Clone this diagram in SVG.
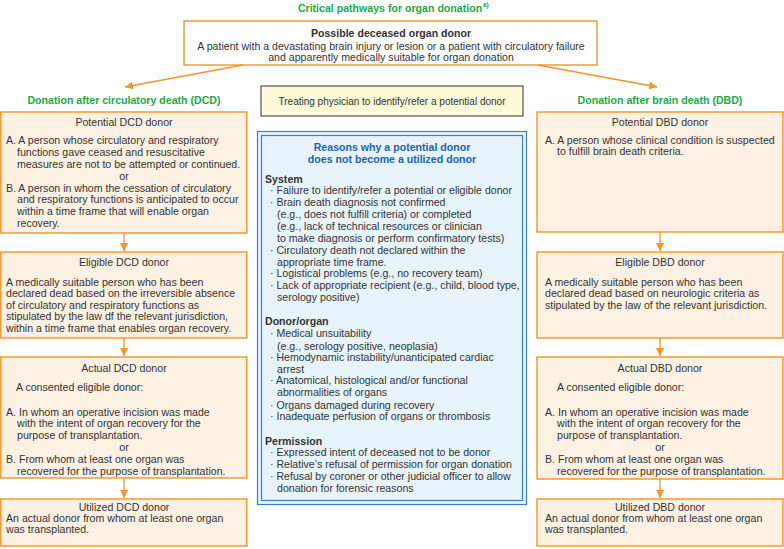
<svg xmlns="http://www.w3.org/2000/svg" width="784" height="549" viewBox="0 0 784 549">
<defs>
<marker id="ah" markerUnits="userSpaceOnUse" markerWidth="9" markerHeight="8" refX="8" refY="4" orient="auto">
<path d="M0,0 L8,4 L0,8 z" fill="#f39425"/>
</marker>
<style>
text{font-family:"Liberation Sans",Arial,sans-serif;font-size:10.6px;fill:#333}
.g{fill:#1ea84a;font-weight:bold;font-size:10.6px}
.b{font-weight:bold;font-size:10.6px}
.bl{fill:#1d63b3;font-weight:bold;font-size:10.6px}
.c{text-anchor:middle}
.box{fill:#fdf1e3;stroke:#f39425;stroke-width:1.4}
.conn{stroke:#f39425;stroke-width:1.3;fill:none;marker-end:url(#ah)}
</style>
</defs>
<rect width="784" height="549" fill="#fff"/>

<g id="title">
<text class="g c" x="390" y="12">Critical pathways for organ donation</text>
<text x="483" y="7" style="font-size:6.5px;fill:#1ea84a;font-weight:bold">a)</text>
</g>

<g id="possible">
<rect x="184" y="21" width="413" height="44" fill="#fff" stroke="#f39425" stroke-width="1.4"/>
<text class="b c" x="391" y="37">Possible deceased organ donor</text>
<text class="c" x="391" y="49.5">A patient with a devastating brain injury or lesion or a patient with circulatory failure</text>
<text class="c" x="391" y="61">and apparently medically suitable for organ donation</text>
</g>

<g id="dcd-head"><text class="g c" x="124" y="104">Donation after circulatory death (DCD)</text></g>
<g id="dbd-head"><text class="g c" x="660" y="104">Donation after brain death (DBD)</text></g>

<g id="physician">
<rect x="261" y="86" width="262" height="30" fill="#fdfad8" stroke="#333" stroke-width="1"/>
<text class="c" x="392" y="104.5" style="font-size:10px">Treating physician to identify/refer a potential donor</text>
</g>

<g id="potential-dcd">
<rect class="box" x="0.8" y="112" width="246" height="121"/>
<text class="c" x="124" y="126">Potential DCD donor</text>
<text x="6" y="144.3">A. A person whose circulatory and respiratory</text>
<text x="17" y="156.1">functions gave ceased and resuscitative</text>
<text x="17" y="167.9">measures are not to be attempted or continued.</text>
<text class="c" x="124" y="179.7">or</text>
<text x="6" y="191.5">B. A person in whom the cessation of circulatory</text>
<text x="17" y="203.3">and respiratory functions is anticipated to occur</text>
<text x="17" y="215.1">within a time frame that will enable organ</text>
<text x="17" y="226.9">recovery.</text>
</g>

<g id="eligible-dcd">
<rect class="box" x="0.8" y="252" width="246" height="86"/>
<text class="c" x="124" y="265.5">Eligible DCD donor</text>
<text x="6" y="285.5">A medically suitable person who has been</text>
<text x="6" y="297.1">declared dead based on the irreversible absence</text>
<text x="6" y="308.7">of circulatory and respiratory functions as</text>
<text x="6" y="320.3">stipulated by the law df the relevant jurisdiction,</text>
<text x="6" y="331.9">within a time frame that enables organ recovery.</text>
</g>

<g id="actual-dcd">
<rect class="box" x="0.8" y="357" width="246" height="121"/>
<text class="c" x="124" y="371.5">Actual DCD donor</text>
<text x="16" y="390.5">A consented eligible donor:</text>
<text x="6" y="415.5">A. In whom an operative incision was made</text>
<text x="17" y="427.3">with the intent of organ recovery for the</text>
<text x="17" y="439.1">purpose of transplantation.</text>
<text class="c" x="124" y="450.9">or</text>
<text x="6" y="462.7">B. From whom at least one organ was</text>
<text x="17" y="474.5">recovered for the purpose of transplantation.</text>
</g>

<g id="utilized-dcd">
<rect class="box" x="0.8" y="499" width="246" height="47"/>
<text class="c" x="124" y="510.5">Utilized DCD donor</text>
<text x="6" y="521.7">An actual donor from whom at least one organ</text>
<text x="6" y="532.9">was transplanted.</text>
</g>

<g id="potential-dbd">
<rect class="box" x="537" y="112" width="246" height="120"/>
<text class="c" x="660" y="125.5">Potential DBD donor</text>
<text x="545" y="143.5">A. A person whose clinical condition is suspected</text>
<text x="557" y="155.3">to fulfill brain death criteria.</text>
</g>

<g id="eligible-dbd">
<rect class="box" x="537" y="252" width="246" height="86"/>
<text class="c" x="660" y="265.5">Eligible DBD donor</text>
<text x="545" y="285.5">A medically suitable person who has been</text>
<text x="545" y="297.1">declared dead based on neurologic criteria as</text>
<text x="545" y="308.7">stipulated by the law of the relevant jurisdiction.</text>
</g>

<g id="actual-dbd">
<rect class="box" x="537" y="357" width="246" height="122"/>
<text class="c" x="660" y="371.5">Actual DBD donor</text>
<text x="557" y="390.5">A consented eligible donor:</text>
<text x="545" y="415.5">A. In whom an operative incision was made</text>
<text x="557" y="427.3">with the intent of organ recovery for the</text>
<text x="557" y="439.1">purpose of transplantation.</text>
<text class="c" x="660" y="450.9">or</text>
<text x="545" y="462.7">B. From whom at least one organ was</text>
<text x="557" y="474.5">recovered for the purpose of transplantation.</text>
</g>

<g id="utilized-dbd">
<rect class="box" x="537" y="499" width="246" height="47"/>
<text class="c" x="660" y="510.5">Utilized DBD donor</text>
<text x="545" y="521.7">An actual donor from whom at least one organ</text>
<text x="545" y="532.9">was transplanted.</text>
</g>

<g id="reasons">
<rect x="257.5" y="131.5" width="269" height="373" fill="#e8f4fc" stroke="#3a7fc8" stroke-width="1.2"/>
<rect x="261.5" y="135.5" width="261" height="365" fill="none" stroke="#3a7fc8" stroke-width="1.2"/>
<text class="bl c" x="392" y="151">Reasons why a potential donor</text>
<text class="bl c" x="392" y="163">does not become a utilized donor</text>
<text class="b" x="265" y="183">System</text>
<text x="270" y="193.5">· Failure to identify/refer a potential or eligible donor</text>
<text x="270" y="205.8">· Brain death diagnosis not confirmed</text>
<text x="277" y="217.8">(e.g., does not fulfill criteria) or completed</text>
<text x="277" y="230.2">(e.g., lack of technical resources or clinician</text>
<text x="277" y="242.2">to make diagnosis or perform confirmatory tests)</text>
<text x="270" y="253.5">· Circulatory death not declared within the</text>
<text x="277" y="265.5">appropriate time frame.</text>
<text x="270" y="277.2">· Logistical problems (e.g., no recovery team)</text>
<text x="270" y="289.2">· Lack of appropriate recipient (e.g., child, blood type,</text>
<text x="277" y="300.8">serology positive)</text>
<text class="b" x="265" y="324.8">Donor/organ</text>
<text x="270" y="336.8">· Medical unsuitability</text>
<text x="277" y="349.5">(e.g., serology positive, neoplasia)</text>
<text x="270" y="361.2">· Hemodynamic instability/unanticipated cardiac</text>
<text x="277" y="372.8">arrest</text>
<text x="270" y="384.2">· Anatomical, histological and/or functional</text>
<text x="277" y="396.2">abnormalities of organs</text>
<text x="270" y="408.5">· Organs damaged during recovery</text>
<text x="270" y="420.2">· Inadequate perfusion of organs or thrombosis</text>
<text class="b" x="265" y="444.5">Permission</text>
<text x="270" y="456.2">· Expressed intent of deceased not to be donor</text>
<text x="270" y="467.8">· Relative’s refusal of permission for organ donation</text>
<text x="270" y="480.2">· Refusal by coroner or other judicial officer to allow</text>
<text x="277" y="491.8">donation for forensic reasons</text>
</g>

<g id="connectors">
<path class="conn" d="M243,65 L125,87"/>
<path class="conn" d="M538,65 L657,87"/>
<path class="conn" d="M124,233 V251"/>
<path class="conn" d="M124,338 V356"/>
<path class="conn" d="M124,478 V498"/>
<path class="conn" d="M660,232 V251"/>
<path class="conn" d="M660,338 V356"/>
<path class="conn" d="M660,479 V498"/>
</g>
</svg>
